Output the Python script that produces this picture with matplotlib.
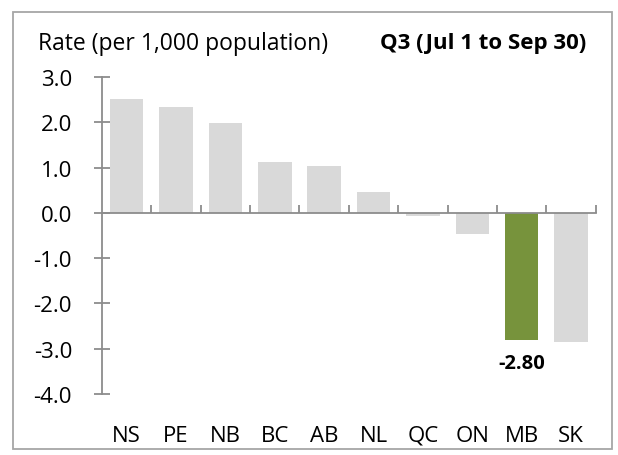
import numpy as np
import matplotlib.pyplot as plt
import matplotlib.transforms as mtransforms
from matplotlib.patches import Rectangle

plt.rcParams['font.family'] = ['Open Sans', 'DejaVu Sans']

# data
provinces = ["NS", "PE", "NB", "BC", "AB", "NL", "QC", "ON", "MB", "SK"]
rates = [2.52, 2.34, 1.99, 1.13, 1.04, 0.46, -0.07, -0.46, -2.80, -2.85]
highlight = "MB"
yticks = [3.0, 2.0, 1.0, 0.0, -1.0, -2.0, -3.0, -4.0]

fig = plt.figure(figsize=(6.18, 4.56), dpi=100)
ax = fig.add_axes([0.165, 0.134, 0.799, 0.695])

x = np.arange(len(provinces))
colors = ["#77933c" if p == highlight else "#d9d9d9" for p in provinces]
ax.bar(x, rates, width=0.68, color=colors, zorder=2)

ax.set_xlim(-0.5, len(provinces) - 0.5)
ax.set_ylim(-4.0, 3.0)

# spines
for s in ["top", "right"]:
    ax.spines[s].set_visible(False)
ax.spines["left"].set_color("#8c8c8c")
ax.spines["left"].set_linewidth(1.3)
ax.spines["bottom"].set_position(("data", 0))
ax.spines["bottom"].set_color("#8c8c8c")
ax.spines["bottom"].set_linewidth(1.3)
ax.spines["bottom"].set_zorder(3)

ax.set_yticks(yticks)
ax.set_yticklabels([f"{v:.1f}" for v in yticks], fontsize=16)
ax.tick_params(axis="y", direction="inout", length=11, width=1.3, color="#8c8c8c", pad=16)

ax.set_xticks(np.arange(len(provinces)) + 0.5)
ax.set_xticklabels([])
ax.tick_params(axis="x", direction="in", length=6, width=1.3, color="#8c8c8c")

# category labels along the bottom
trans = mtransforms.blended_transform_factory(ax.transData, ax.transAxes)
for i, p in enumerate(provinces):
    ax.text(i, -0.13, p, transform=trans, ha="center", va="center", fontsize=16)

# value label for highlighted bar
hi = provinces.index(highlight)
ax.text(hi, rates[hi] - 0.52, f"{rates[hi]:.2f}", ha="center", va="center",
        fontsize=14.5, fontweight="bold")

fig.text(38 / 618, 1 - 44 / 456, "Rate (per 1,000 population)", ha="left", va="center", fontsize=16.5)
fig.text(586 / 618, 1 - 44 / 456, "Q3 (Jul 1 to Sep 30)", ha="right", va="center",
         fontsize=16, fontweight="bold")

# outer frame
fig.patches.append(Rectangle((13 / 618, 1 - 450 / 456), 599 / 618, 437 / 456,
                             transform=fig.transFigure, fill=False,
                             edgecolor="#a6a6a6", linewidth=1.3))

fig.savefig("out.png", dpi=100)
